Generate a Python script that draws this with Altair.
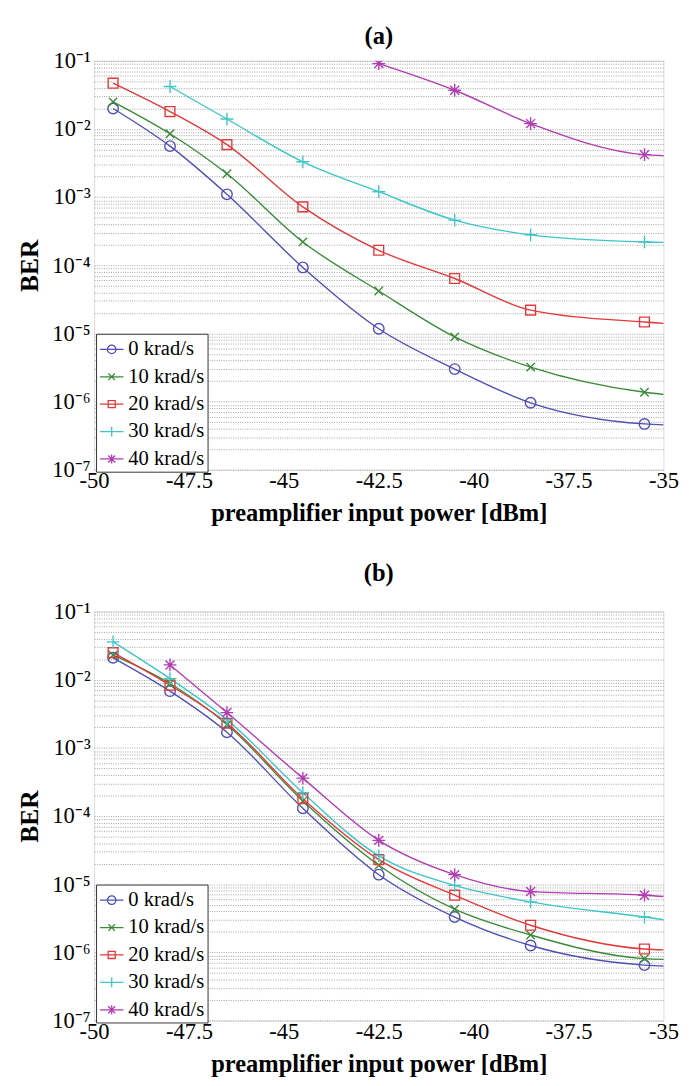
import altair as alt
import pandas as pd

# ---------------- data ----------------
x_power = [-49.5, -48.0, -46.5, -44.5, -42.5, -40.5, -38.5, -35.5, -34.5]
n_marked = 8  # last x value only continues the curve past the right border

series_names = ["\u00a0\u00a00 krad/s", "10 krad/s", "20 krad/s", "30 krad/s", "40 krad/s"]

ber_a_0 = [2.0e-2, 5.6e-3, 1.1e-3, 9.3e-5, 1.17e-5, 3.0e-6, 9.6e-7, 4.7e-7, 4.5e-7]
ber_a_10 = [2.5e-2, 8.5e-3, 2.2e-3, 2.2e-4, 4.2e-5, 8.9e-6, 3.2e-6, 1.37e-6, 1.2e-6]
ber_a_20 = [4.7e-2, 1.8e-2, 5.9e-3, 7.2e-4, 1.66e-4, 6.4e-5, 2.2e-5, 1.47e-5, 1.35e-5]
ber_a_30 = [None, 4.2e-2, 1.4e-2, 3.3e-3, 1.2e-3, 4.6e-4, 2.8e-4, 2.2e-4, 2.14e-4]
ber_a_40 = [None, None, None, None, 9.1e-2, 3.7e-2, 1.2e-2, 4.2e-3, 4.0e-3]

ber_b_0 = [2.1e-2, 6.8e-3, 1.7e-3, 1.3e-4, 1.38e-5, 3.3e-6, 1.26e-6, 6.5e-7, 6.2e-7]
ber_b_10 = [2.3e-2, 8.8e-3, 2.2e-3, 1.66e-4, 1.9e-5, 4.3e-6, 1.8e-6, 8.1e-7, 7.8e-7]
ber_b_20 = [2.5e-2, 8.3e-3, 2.3e-3, 1.8e-4, 2.3e-5, 6.9e-6, 2.5e-6, 1.12e-6, 1.07e-6]
ber_b_30 = [3.6e-2, 1.04e-2, 2.6e-3, 2.2e-4, 2.6e-5, 9.6e-6, 5.5e-6, 3.3e-6, 2.75e-6]
ber_b_40 = [None, 1.65e-2, 3.3e-3, 3.6e-4, 4.4e-5, 1.38e-5, 7.8e-6, 6.9e-6, 6.3e-6]

x_ticks = [-50, -47.5, -45, -42.5, -40, -37.5, -35]

# ---------------- styles ----------------
colors = ["#4f4fb4", "#3a8a3a", "#e23a3a", "#3cc6c8", "#b23cb2"]
marker_paths = [
    "circle",
    "M-0.7,-0.7L0.7,0.7M-0.7,0.7L0.7,-0.7",
    "square",
    "M-1,0L1,0M0,-1L0,1",
    "M-1,0L1,0M0,-1L0,1M-0.7,-0.7L0.7,0.7M-0.7,0.7L0.7,-0.7",
]
marker_sizes = [115, 150, 100, 170, 170]
r = 0.36
legend_paths = [
    f"M-1,0L1,0M-{r},0A{r},{r},0,1,1,{r},0A{r},{r},0,1,1,-{r},0",
    "M-1,0L1,0M-0.28,-0.28L0.28,0.28M-0.28,0.28L0.28,-0.28",
    "M-1,0L1,0M-0.3,-0.3L0.3,-0.3L0.3,0.3L-0.3,0.3Z",
    "M-1,0L1,0M0,-0.42L0,0.42",
    "M-1,0L1,0M0,-0.38L0,0.38M-0.3,-0.3L0.3,0.3M-0.3,0.3L0.3,-0.3",
]

FONT = "Liberation Serif"
sup = ["\u2070", "\u207b\u00b9", "\u207b\u00b2", "\u207b\u00b3", "\u207b\u2074",
       "\u207b\u2075", "\u207b\u2076", "\u207b\u2077"]
sup_js = "[" + ",".join("'" + s + "'" for s in sup) + "]"

y_vals = [1e-1]
for k in range(-7, -1):
    for m in range(1, 10):
        y_vals.append(m * 10.0 ** k)
y_vals = sorted(y_vals)

label_expr = (
    "abs(log(datum.value)/LN10 - round(log(datum.value)/LN10)) < 0.01 ? "
    "'10' + " + sup_js + "[-round(log(datum.value)/LN10)] : ''"
)

W, H = 582, 418
LEG_H = 139


def make_df(rows):
    recs = []
    for name, vals in zip(series_names, rows):
        for i, (xv, yv) in enumerate(zip(x_power, vals)):
            if yv is not None:
                recs.append({"x": xv, "ber": yv, "series": name, "marked": i < n_marked})
    return pd.DataFrame(recs)


def legend_def():
    return alt.Legend(
        title=None, orient="none", legendX=2, legendY=H - LEG_H,
        fillColor="white", strokeColor="#333", padding=3, rowPadding=5,
        symbolSize=576, symbolStrokeWidth=1.3, symbolOpacity=1,
        labelFont=FONT, labelFontSize=21, labelColor="black", labelOffset=4,
        labelLimit=400,
    )


def panel(rows, title, title_offset):
    df = make_df(rows)
    base = alt.Chart(df)
    x_enc = alt.X(
        "x:Q",
        scale=alt.Scale(domain=[-50, -35], nice=False, zero=False),
        axis=alt.Axis(
            values=x_ticks, labelExpr="datum.value + ''", title="preamplifier input power [dBm]",
            grid=False, ticks=False, domain=False, labelFont=FONT, labelFontSize=23,
            labelColor="black", labelPadding=0, titleFont=FONT, titleFontSize=25,
            titleFontWeight="bold", titleColor="black", titlePadding=9,
            labelFlush=False,
        ),
    )
    y_enc = alt.Y(
        "ber:Q",
        scale=alt.Scale(type="log", domain=[1e-7, 1e-1], nice=False),
        axis=alt.Axis(
            values=y_vals, labelExpr=label_expr, title="BER", grid=True,
            gridColor="#8a8a8a", gridDash=[1, 1.4], gridWidth=0.8, ticks=False,
            domain=False, labelFont=FONT, labelFontSize=23, labelColor="black",
            labelPadding=4, titleFont=FONT, titleFontSize=26, titleFontWeight="bold",
            titleColor="black", titlePadding=10, labelFlush=False,
            labelOverlap=False,
        ),
    )
    layers = []
    # invisible layer that only carries the legend symbols (line + marker)
    leg = base.mark_point(filled=False, strokeWidth=1.3, clip=True).encode(
        x=x_enc, y=y_enc, opacity=alt.value(0),
        color=alt.Color("series:N", scale=alt.Scale(domain=series_names, range=colors),
                        legend=legend_def()),
        shape=alt.Shape("series:N", scale=alt.Scale(domain=series_names, range=legend_paths),
                        legend=legend_def()),
    )
    layers.append(leg)
    for name, col in zip(series_names, colors):
        ln = base.transform_filter(alt.datum.series == name).mark_line(
            interpolate="monotone", strokeWidth=1.4, clip=True, color=col
        ).encode(x=x_enc, y=y_enc)
        layers.append(ln)
    for name, col, path, sz in zip(series_names, colors, marker_paths, marker_sizes):
        pts = base.transform_filter(
            (alt.datum.series == name) & (alt.datum.marked == True)
        ).mark_point(filled=False, strokeWidth=1.4, clip=True, opacity=1).encode(
            x=x_enc, y=y_enc,
            color=alt.value(col), shape=alt.value(path), size=alt.value(sz),
        )
        layers.append(pts)
    return alt.layer(*layers).properties(
        width=W, height=H,
        title=alt.TitleParams(title, font=FONT, fontSize=25, fontWeight="bold",
                              color="black", offset=title_offset, anchor="middle"),
    )


top = panel([ber_a_0, ber_a_10, ber_a_20, ber_a_30, ber_a_40], "(a)", 1)
bottom = panel([ber_b_0, ber_b_10, ber_b_20, ber_b_30, ber_b_40], "(b)", 15)

chart = (
    alt.vconcat(top, bottom, spacing=35)
    .resolve_scale(color="independent", shape="independent")
    .resolve_legend(color="independent", shape="independent")
    .properties(padding={"left": 8, "top": 4, "right": 5, "bottom": 0})
    .configure_view(stroke="#333", strokeWidth=1)
    .configure(background="white")
)

chart.save("out.html", embed_options={"renderer": "svg", "actions": False})
